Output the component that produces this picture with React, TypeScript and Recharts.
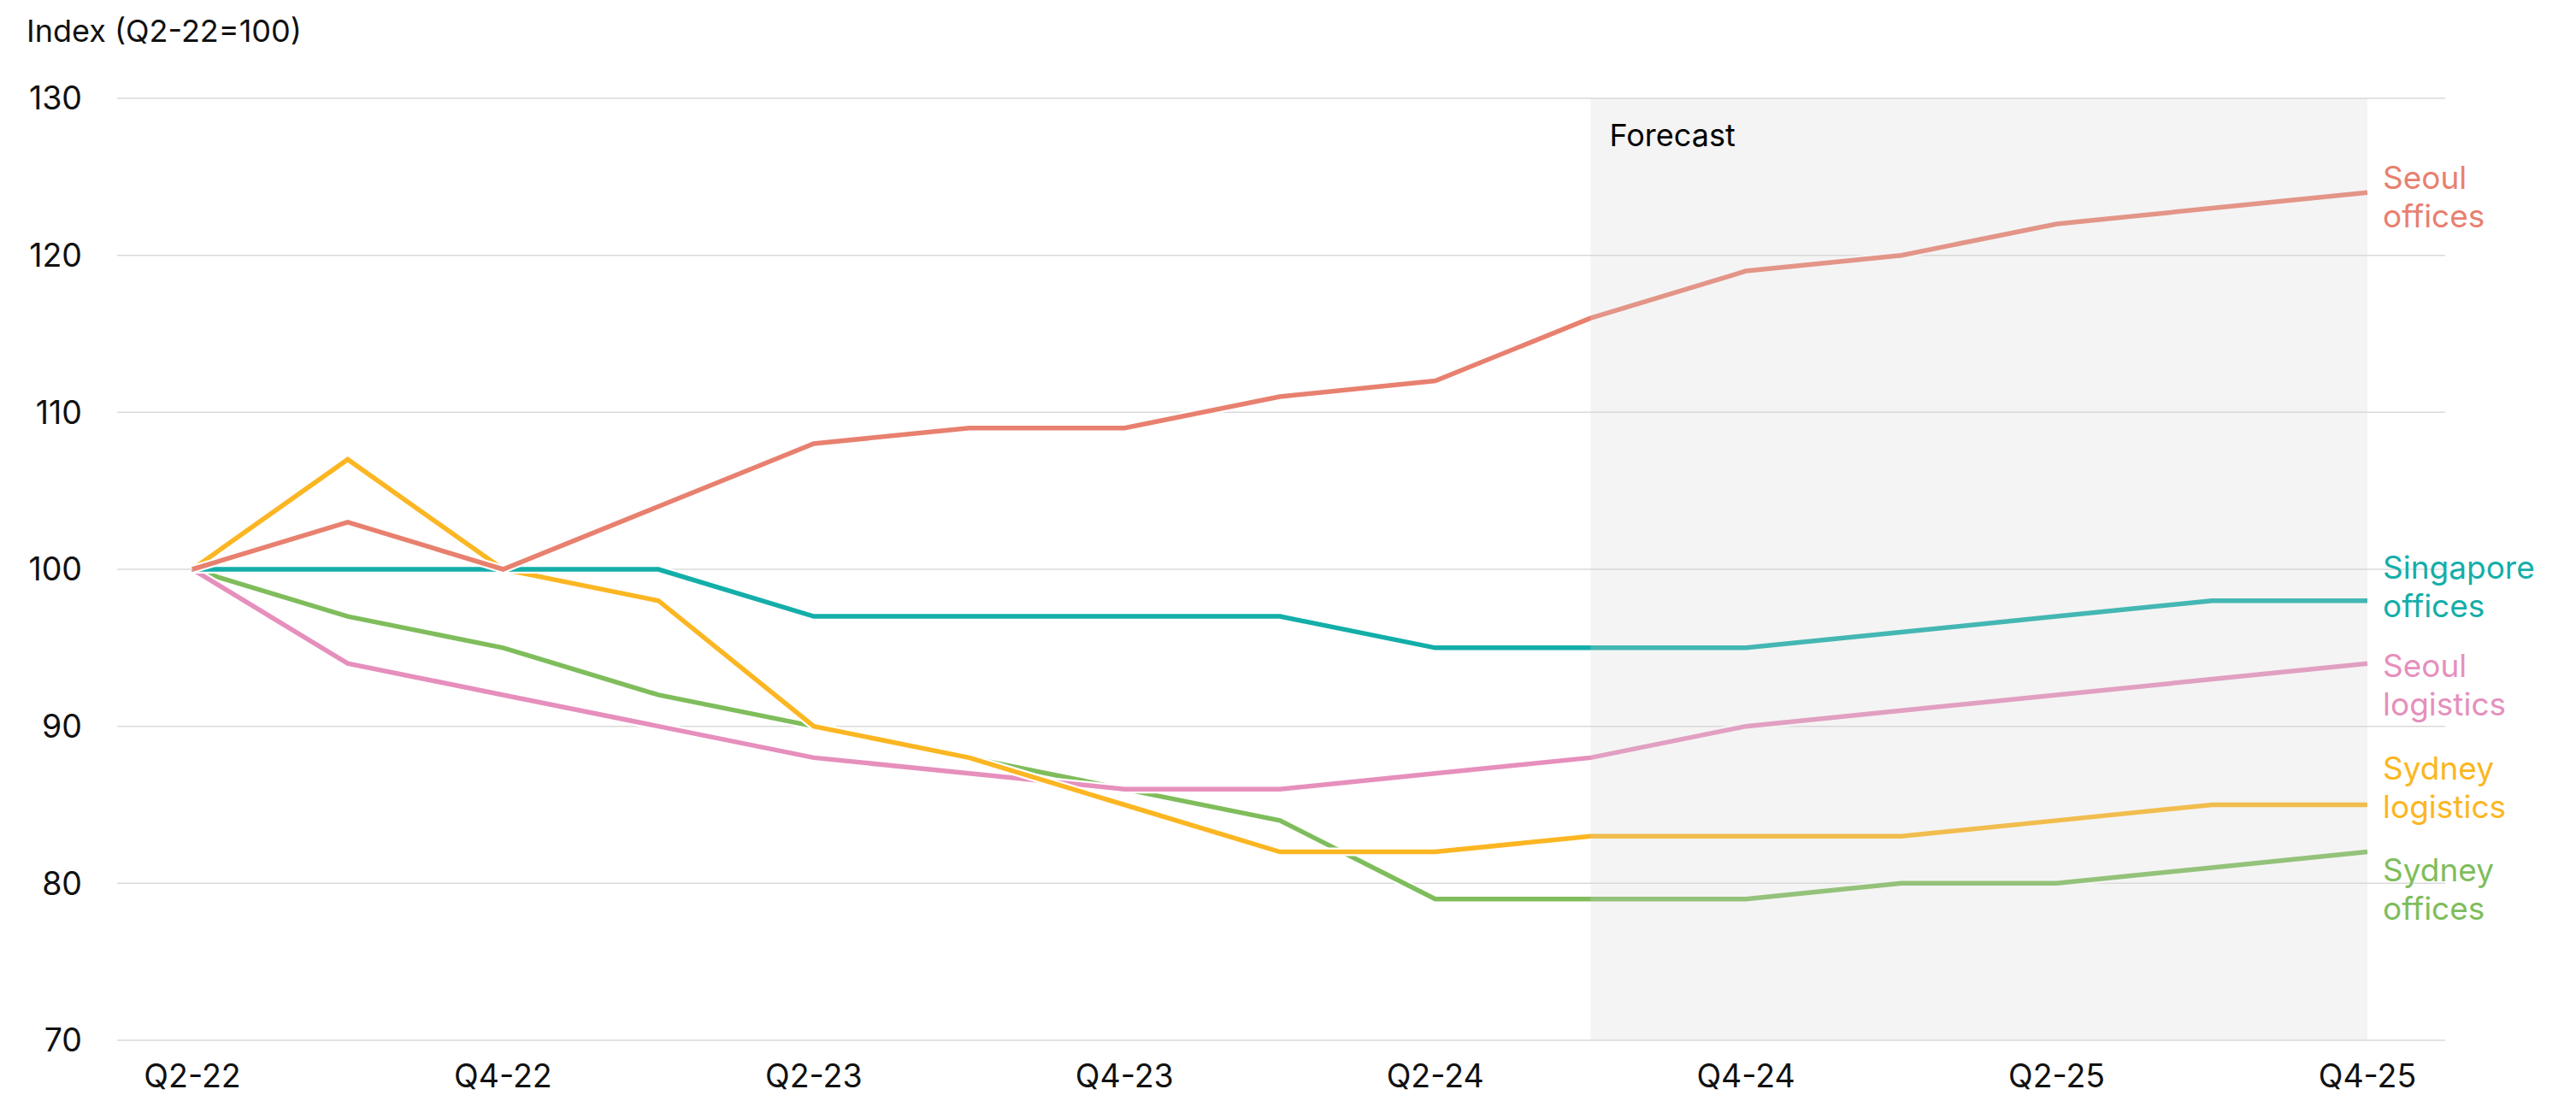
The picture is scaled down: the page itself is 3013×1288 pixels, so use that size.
import { CartesianGrid, LabelList, Line, LineChart, ReferenceArea, XAxis, YAxis } from "recharts";

const quarters = [
  "Q2-22", "Q3-22", "Q4-22", "Q1-23", "Q2-23", "Q3-23", "Q4-23", "Q1-24",
  "Q2-24", "Q3-24", "Q4-24", "Q1-25", "Q2-25", "Q3-25", "Q4-25",
];
const seoulOffices = [100, 103, 100, 104, 108, 109, 109, 111, 112, 116, 119, 120, 122, 123, 124];
const singaporeOffices = [100, 100, 100, 100, 97, 97, 97, 97, 95, 95, 95, 96, 97, 98, 98];
const seoulLogistics = [100, 94, 92, 90, 88, 87, 86, 86, 87, 88, 90, 91, 92, 93, 94];
const sydneyLogistics = [100, 107, 100, 98, 90, 88, 85, 82, 82, 83, 83, 83, 84, 85, 85];
const sydneyOffices = [100, 97, 95, 92, 90, 88, 86, 84, 79, 79, 79, 80, 80, 81, 82];
const yTicks = [70, 80, 90, 100, 110, 120, 130];
const forecastStart = "Q3-24";
const forecastEnd = "Q4-25";

const data = quarters.map((q, i) => ({
  q,
  seoulOffices: seoulOffices[i],
  singaporeOffices: singaporeOffices[i],
  seoulLogistics: seoulLogistics[i],
  sydneyLogistics: sydneyLogistics[i],
  sydneyOffices: sydneyOffices[i],
}));

const FONT = "Inter, 'Noto Sans', sans-serif";

// drawn bottom to top; shift nudges the end label so they don't collide
const series = [
  { key: "sydneyOffices", label: ["Sydney", "offices"], color: "#7fbd5c", shift: 34 },
  { key: "seoulLogistics", label: ["Seoul", "logistics"], color: "#e68fbd", shift: 16 },
  { key: "sydneyLogistics", label: ["Sydney", "logistics"], color: "#fbb622", shift: -30 },
  { key: "singaporeOffices", label: ["Singapore", "offices"], color: "#14aea9", shift: -26 },
  { key: "seoulOffices", label: ["Seoul", "offices"], color: "#e8806f", shift: -4 },
];

const endLabel = (lines: string[], color: string, shift: number) => (props: any) => {
  if (props.index !== quarters.length - 1) return null;
  const x = Number(props.x) + 18;
  const y = Number(props.y) + shift;
  return (
    <text x={x} y={y} fill={color} fontSize={37} fontFamily={FONT}>
      <tspan x={x} y={y}>{lines[0]}</tspan>
      <tspan x={x} y={y + 45}>{lines[1]}</tspan>
    </text>
  );
};

export default function App() {
  return (
    <LineChart
      width={2997}
      height={1272}
      data={data}
      margin={{ top: 107, right: 145, bottom: 0, left: 0 }}
      style={{ fontFamily: FONT }}
    >
      <text x={23} y={41} fontSize={36} fontFamily={FONT} fill="#111">
        Index (Q2-22=100)
      </text>
      <CartesianGrid vertical={false} stroke="#dadada" strokeWidth={1.5} />
      <XAxis
        dataKey="q"
        interval={1}
        height={63}
        padding={{ left: 88, right: 91 }}
        axisLine={false}
        tickLine={false}
        tickSize={0}
        tickMargin={28}
        tick={{ fontSize: 37.5, fill: "#111", fontFamily: FONT }}
      />
      <YAxis
        domain={[70, 130]}
        ticks={yTicks}
        width={129}
        axisLine={false}
        tickLine={false}
        tickSize={0}
        tickMargin={41}
        tick={{ fontSize: 37.5, fill: "#111", fontFamily: FONT }}
      />
      {series.flatMap((s) => [
        <Line
          key={s.key + "-halo"}
          dataKey={s.key}
          type="linear"
          stroke="#ffffff"
          strokeWidth={10}
          dot={false}
          activeDot={false}
          isAnimationActive={false}
        />,
        <Line
          key={s.key}
          dataKey={s.key}
          type="linear"
          stroke={s.color}
          strokeWidth={5.5}
          dot={false}
          activeDot={false}
          isAnimationActive={false}
        >
          <LabelList dataKey={s.key} content={endLabel(s.label, s.color, s.shift)} />
        </Line>,
      ])}
      {/* translucent grey over the forecast quarters, tints the lines beneath */}
      <ReferenceArea
        x1={forecastStart}
        x2={forecastEnd}
        fill="#d4d4d4"
        fillOpacity={0.25}
        stroke="none"
        zIndex={450}
        label={(props: any) => (
          <text
            x={props.viewBox.x + 22}
            y={props.viewBox.y + 56}
            fontSize={36}
            fontFamily={FONT}
            fill="#000"
          >
            Forecast
          </text>
        )}
      />
    </LineChart>
  );
}
